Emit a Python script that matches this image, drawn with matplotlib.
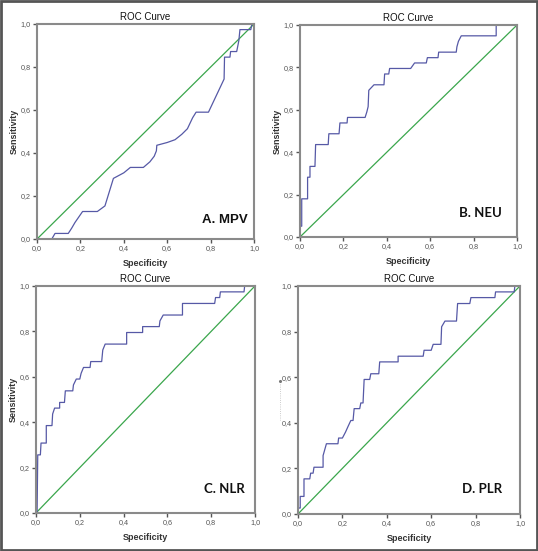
import numpy as np
import matplotlib
matplotlib.use("Agg")
import matplotlib.pyplot as plt
from matplotlib.lines import Line2D
from matplotlib.patches import Rectangle

# === ROC curve vertices (x = 1 - specificity, y = sensitivity) ===
mpv_x = [0, 0.068, 0.083, 0.144, 0.16, 0.175, 0.21, 0.278, 0.313, 0.352, 0.40, 0.43, 0.49,
         0.52, 0.54, 0.55, 0.552, 0.60, 0.636, 0.667, 0.693, 0.717, 0.733, 0.79, 0.862,
         0.864, 0.889, 0.892, 0.92, 0.925, 0.93, 0.935, 0.985, 0.99, 1.0]
mpv_y = [0, 0, 0.026, 0.026, 0.051, 0.077, 0.128, 0.128, 0.154, 0.282, 0.308, 0.333, 0.333,
         0.359, 0.385, 0.41, 0.436, 0.449, 0.462, 0.487, 0.513, 0.564, 0.59, 0.59, 0.744,
         0.846, 0.846, 0.872, 0.872, 0.897, 0.923, 0.974, 0.974, 1.0, 1.0]

neu_x = [0, 0, 0.008, 0.008, 0.035, 0.035, 0.046, 0.046, 0.069, 0.072, 0.13, 0.133, 0.18,
         0.184, 0.217, 0.219, 0.30, 0.308, 0.314, 0.317, 0.341, 0.387, 0.39, 0.409, 0.413,
         0.51, 0.528, 0.582, 0.587, 0.636, 0.639, 0.72, 0.723, 0.73, 0.743, 0.904, 0.904, 1.0]
neu_y = [0, 0.051, 0.051, 0.18, 0.18, 0.282, 0.282, 0.333, 0.333, 0.436, 0.436, 0.487, 0.487,
         0.538, 0.538, 0.564, 0.564, 0.59, 0.615, 0.692, 0.718, 0.718, 0.769, 0.769, 0.795,
         0.795, 0.821, 0.821, 0.846, 0.846, 0.872, 0.872, 0.897, 0.923, 0.949, 0.949, 1.0, 1.0]

nlr_x = [0, 0.005, 0.008, 0.02, 0.023, 0.047, 0.047, 0.073, 0.076, 0.085, 0.108, 0.108, 0.13,
         0.134, 0.168, 0.171, 0.184, 0.20, 0.206, 0.217, 0.247, 0.25, 0.30, 0.305, 0.316,
         0.414, 0.414, 0.487, 0.487, 0.563, 0.566, 0.581, 0.669, 0.669, 0.816, 0.82, 0.839,
         0.842, 0.95, 0.953, 1.0]
nlr_y = [0, 0, 0.256, 0.256, 0.308, 0.308, 0.385, 0.385, 0.436, 0.462, 0.462, 0.487, 0.487,
         0.538, 0.538, 0.564, 0.59, 0.59, 0.615, 0.641, 0.641, 0.667, 0.667, 0.718, 0.744,
         0.744, 0.795, 0.795, 0.821, 0.821, 0.846, 0.872, 0.872, 0.923, 0.923, 0.949, 0.949,
         0.974, 0.974, 1.0, 1.0]

plr_x = [0, 0, 0.01, 0.01, 0.027, 0.027, 0.053, 0.057, 0.068, 0.072, 0.113, 0.113, 0.128,
         0.18, 0.183, 0.20, 0.214, 0.226, 0.238, 0.248, 0.253, 0.278, 0.283, 0.293, 0.298,
         0.323, 0.328, 0.364, 0.368, 0.451, 0.451, 0.564, 0.568, 0.60, 0.609, 0.644, 0.647,
         0.662, 0.714, 0.719, 0.774, 0.779, 0.887, 0.89, 0.974, 0.977, 1.0]
plr_y = [0, 0.026, 0.026, 0.077, 0.077, 0.154, 0.154, 0.179, 0.179, 0.205, 0.205, 0.256, 0.308,
         0.308, 0.333, 0.333, 0.359, 0.385, 0.41, 0.41, 0.462, 0.462, 0.487, 0.487, 0.59,
         0.59, 0.615, 0.615, 0.667, 0.667, 0.692, 0.692, 0.718, 0.718, 0.744, 0.744, 0.821,
         0.846, 0.846, 0.923, 0.923, 0.949, 0.949, 0.974, 0.974, 1.0, 1.0]

curves = [(mpv_x, mpv_y), (neu_x, neu_y), (nlr_x, nlr_y), (plr_x, plr_y)]
panel_labels = ["A. MPV", "B. NEU", "C. NLR", "D. PLR"]
ticks = [0, 0.2, 0.4, 0.6, 0.8, 1.0]
tick_labels = ["0,0", "0,2", "0,4", "0,6", "0,8", "1,0"]

# === Layout (figure fractions) ===
rects = [
    [0.0688, 0.5662, 0.4034, 0.3902],
    [0.5576, 0.5699, 0.4034, 0.3847],
    [0.0669, 0.0690, 0.4070, 0.4120],
    [0.5539, 0.0672, 0.4126, 0.4138],
]
label_pos = [(0.866, 0.088), (0.833, 0.113), (0.859, 0.106), (0.827, 0.108)]
label_font = ["Liberation Sans", "Lato", "Lato", "Lato"]

blue = "#5659a6"
green = "#3aa64c"
spine = "#8a8a8a"

fig = plt.figure(figsize=(5.38, 5.51), dpi=100)
fig.patch.set_facecolor("white")

for i, (cx, cy) in enumerate(curves):
    ax = fig.add_axes(rects[i])
    ax.plot([0, 1], [0, 1], color=green, linewidth=0.9)
    ax.plot(cx, cy, color=blue, linewidth=0.9)
    ax.set_xlim(0, 1)
    ax.set_ylim(0, 1)
    ax.set_xticks(ticks)
    ax.set_yticks(ticks)
    ax.set_xticklabels(tick_labels)
    ax.set_yticklabels(tick_labels)
    ax.tick_params(axis="both", direction="out", length=3, width=1, color="#555555",
                   labelsize=5.2, labelcolor="#555555", pad=1.5, top=False, right=False)
    for lab in ax.get_xticklabels() + ax.get_yticklabels():
        lab.set_family("Liberation Sans")
    for s in ax.spines.values():
        s.set_color(spine)
        s.set_linewidth(1.5)
    ax.set_title("ROC Curve", fontsize=7, fontfamily="Liberation Sans", color="#111111", pad=3)
    ax.set_xlabel("Specificity", fontsize=6.5, fontweight="bold", fontfamily="Liberation Sans",
                  color="#333333", labelpad=5)
    if i != 3:
        ax.set_ylabel("Sensitivity", fontsize=6.5, fontweight="bold", fontfamily="Liberation Sans",
                      color="#333333", labelpad=1.5)
    ax.text(label_pos[i][0], label_pos[i][1], panel_labels[i], transform=ax.transAxes,
            ha="center", va="center", fontsize=9.5, fontweight="bold",
            fontfamily=label_font[i], color="#111111")

# faint remnant of the erased y label in panel D
fig.add_artist(Line2D([280 / 538, 280 / 538], [1 - 384 / 551, 1 - 420 / 551],
                      color="#bbbbbb", linewidth=0.6, linestyle=":"))
fig.add_artist(Line2D([280 / 538], [1 - 381 / 551], marker="o", markersize=1.2,
                      color="#777777", linestyle="none"))

# outer frame
fig.add_artist(Rectangle((0.002, 0.002), 0.996, 0.996, transform=fig.transFigure,
                         fill=False, edgecolor="#555555", linewidth=2))

fig.savefig("out.png", dpi=100)
